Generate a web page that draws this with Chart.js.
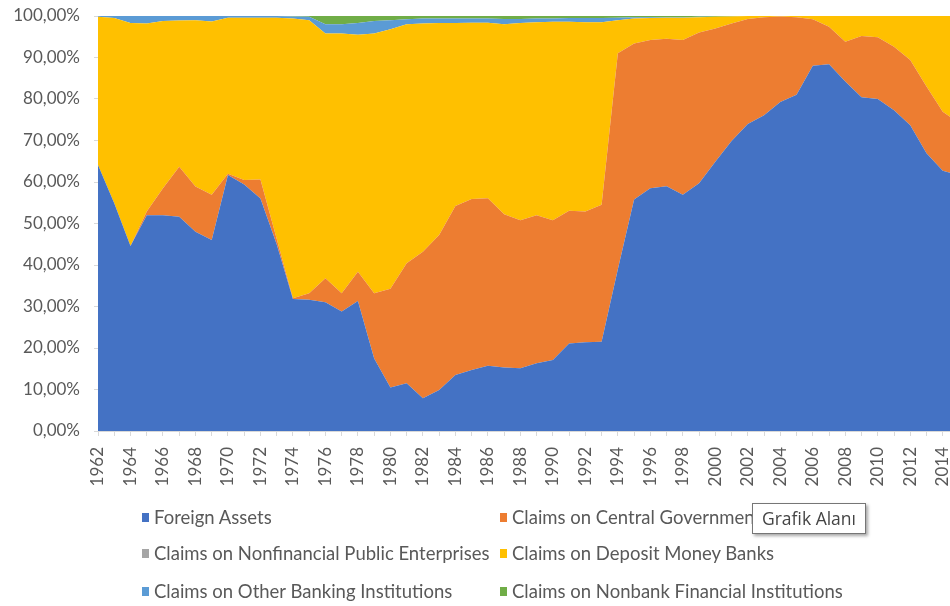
<!DOCTYPE html>
<html>
<head>
<meta charset="utf-8">
<script src="https://cdn.jsdelivr.net/npm/chart.js@4.4.0/dist/chart.umd.min.js"></script>
<style>
  html, body { margin: 0; padding: 0; background: #fff; width: 950px; height: 606px; overflow: hidden; }
  #wrap { position: relative; width: 960px; height: 606px; }
  #chart { position: absolute; left: 0; top: 0; }
  .leg { position: absolute; font-family: Lato, sans-serif; font-size: 18.5px; color: #595959; white-space: nowrap; line-height: 20px; }
  .leg i { position: absolute; left: -12px; top: 6px; width: 7px; height: 9px; }
  #tip { position: absolute; left: 752px; top: 503px; width: 112px; height: 29px; background: #fff;
         border: 1px solid #767676; box-shadow: 2px 2px 3px rgba(0,0,0,0.35);
         font-family: "Open Sans", sans-serif; font-size: 17.5px; color: #444; line-height: 29px; text-align: center; }
</style>
</head>
<body>
<div id="wrap">
  <canvas id="chart" width="960" height="606"></canvas>
  <div id="legend"></div>
  <div id="tip">Grafik Alanı</div>
</div>
<script>
// yillar (1962-2015, 2015 is cut off at the right edge)
const years = [];
for (let y = 1962; y <= 2015; y++) years.push(String(y));

const seriesNames = [
  'Foreign Assets',
  'Claims on Central Government',
  'Claims on Nonfinancial Public Enterprises',
  'Claims on Deposit Money Banks',
  'Claims on Other Banking Institutions',
  'Claims on Nonbank Financial Institutions'
];
const seriesColors = ['#4472C4', '#ED7D31', '#A5A5A5', '#FFC000', '#5B9BD5', '#70AD47'];

const foreignAssets = [64.1,54.9,44.6,52.0,52.0,51.6,48.0,46.0,61.7,59.4,
  56.0,45.0,31.8,31.6,31.0,28.8,31.3,17.5,10.5,11.5,
  7.9,9.9,13.5,14.7,15.7,15.3,15.1,16.3,17.1,21.1,
  21.4,21.5,39.0,55.8,58.5,59.0,56.9,59.7,64.9,69.9,
  74.0,76.1,79.3,81.0,88.0,88.4,84.2,80.4,80.0,77.3,
  73.7,66.9,62.7,61.6];
const centralGov = [0,0,0,0.9,6.5,12.1,10.9,10.9,0.3,1.1,
  4.6,1.3,0.2,1.6,5.8,4.4,7.1,15.7,23.8,28.9,
  35.3,37.3,40.7,41.2,40.4,36.9,35.7,35.7,33.7,32.0,
  31.5,33.0,52.0,37.6,35.7,35.5,37.3,36.3,32.1,28.3,
  25.3,23.6,20.6,18.7,11.2,9.0,9.6,14.8,14.9,15.3,
  15.7,16.1,14.2,12.6];
const nonfinPublic = [0,0,0,0,0,0,0,0,0,0,
  0,0,0,0,0,0,0,0,0,0,
  0,0,0,0,0,0,0,0,0,0,
  0,0,0,0,0,0,0,0,0,0,
  0,0,0,0,0,0,0,0,0,0,
  0,0,0,0];
const depositBanks = [35.7,44.6,53.7,45.3,40.3,35.2,40.1,41.8,37.6,39.1,
  39.0,53.3,67.4,65.8,59.0,62.6,57.1,62.6,62.5,57.6,
  55.0,51.1,44.1,42.5,42.3,45.8,47.5,46.5,47.8,45.5,
  45.6,44.0,8.0,6.0,5.3,5.1,5.4,3.7,2.8,1.7,
  0.7,0.3,0.1,0.3,0.8,2.6,6.2,4.8,5.1,7.4,
  10.6,17.0,23.1,25.8];
const otherBanking = [0.2,0.5,1.7,1.8,1.2,1.1,1.0,1.3,0.4,0.4,
  0.4,0.4,0.5,0.8,2.2,2.2,2.8,3.0,2.2,1.2,
  1.2,1.1,1.1,1.0,1.0,1.3,1.0,0.9,0.8,0.9,
  1.0,1.0,0.6,0.3,0.2,0.1,0.1,0.1,0,0,
  0,0,0,0,0,0,0,0,0,0,
  0,0,0,0];
const nonbankFin = [0,0,0,0,0,0,0,0,0,0,
  0,0,0.1,0.2,2.0,2.0,1.7,1.2,1.0,0.8,
  0.6,0.6,0.6,0.6,0.6,0.7,0.7,0.6,0.6,0.5,
  0.5,0.5,0.4,0.3,0.3,0.3,0.3,0.2,0.2,0.1,
  0,0,0,0,0,0,0,0,0,0,
  0,0,0,0];

const yTicks = [0,10,20,30,40,50,60,70,80,90,100];

const allSeries = [foreignAssets, centralGov, nonfinPublic, depositBanks, otherBanking, nonbankFin];

// %100 yigilmis alan: her yilin toplamina gore oran
const totals = years.map((_, i) => allSeries.reduce((s, arr) => s + arr[i], 0));

const datasets = allSeries.map((arr, k) => ({
  label: seriesNames[k],
  data: arr.map((v, i) => v / totals[i] * 100),
  backgroundColor: seriesColors[k],
  borderColor: seriesColors[k],
  borderWidth: 0,
  pointRadius: 0,
  tension: 0,
  fill: k === 0 ? 'origin' : '-1'
}));

const ctx = document.getElementById('chart');

new Chart(ctx, {
  type: 'line',
  data: { labels: years, datasets: datasets },
  options: {
    responsive: false,
    animation: false,
    layout: { padding: { top: 16, right: 1, bottom: 0, left: 0 } },
    plugins: { legend: { display: false }, tooltip: { enabled: false } },
    scales: {
      x: {
        offset: false,
        grid: { drawOnChartArea: false, tickLength: 5, color: '#D9D9D9' },
        border: { color: '#D9D9D9' },
        ticks: {
          autoSkip: false,
          minRotation: 90,
          maxRotation: 90,
          padding: 11,
          color: '#595959',
          font: { family: 'Lato', size: 17 },
          callback: function (val, idx) { return idx % 2 === 0 ? years[idx] : ''; }
        },
        afterFit: function (scale) {
          scale.height = 175;
          scale.paddingLeft = 0;
          scale.paddingRight = 0;
        }
      },
      y: {
        stacked: true,
        min: 0,
        max: 100,
        afterBuildTicks: function (scale) { scale.ticks = yTicks.map(v => ({ value: v })); },
        grid: { drawOnChartArea: false, tickLength: 4, color: '#D9D9D9' },
        border: { display: false },
        ticks: {
          padding: 14,
          color: '#595959',
          font: { family: 'Lato', size: 17 },
          callback: function (v) { return v.toFixed(2).replace('.', ',') + '%'; }
        },
        afterFit: function (scale) {
          scale.width = 98;
          scale.paddingTop = 0;
          scale.paddingBottom = 0;
        }
      }
    }
  }
});

// lejant iki sutun
const legend = document.getElementById('legend');
const legPos = [[154, 507], [512, 507], [154, 543], [512, 543], [154, 581], [512, 581]];
seriesNames.forEach((name, k) => {
  const d = document.createElement('div');
  d.className = 'leg';
  d.style.left = legPos[k][0] + 'px';
  d.style.top = legPos[k][1] + 'px';
  d.innerHTML = '<i style="background:' + seriesColors[k] + '"></i>' + name;
  legend.appendChild(d);
});
</script>
</body>
</html>
